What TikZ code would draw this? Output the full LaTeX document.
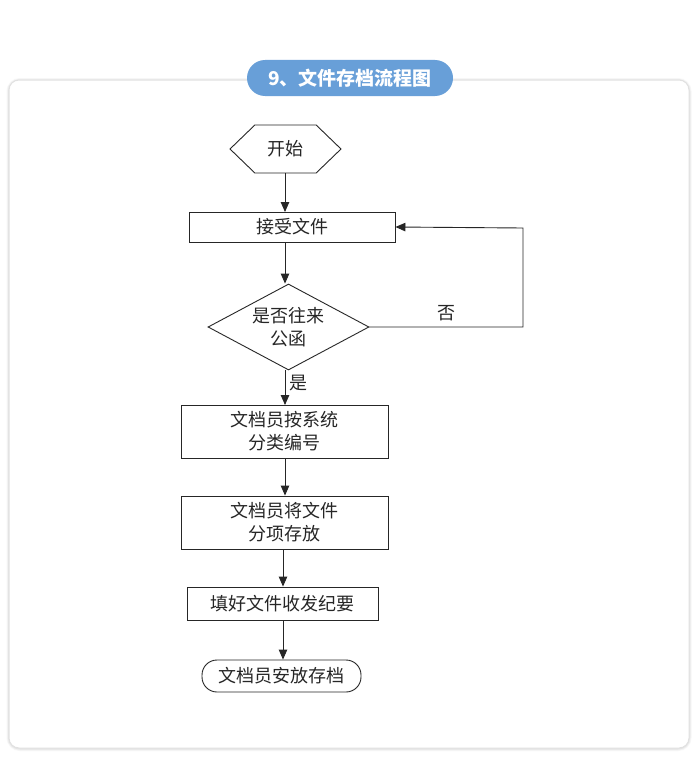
\documentclass[tikz,border=0pt]{standalone}
\usepackage{fontspec}
\setmainfont{Noto Sans CJK SC}
\usepackage{tikz}
\usetikzlibrary{positioning,arrows.meta,shapes.geometric,shapes.symbols}
\definecolor{titleblue}{RGB}{104,159,216}
\definecolor{cardline}{RGB}{225,225,225}

\begin{document}
\begin{tikzpicture}[x=1pt,y=-1pt,
    line/.style={line width=0.9pt,draw=black!85},
    flow/.style={line,-{Triangle[length=10pt,width=8.5pt]}},
    txt/.style={font=\fontsize{18}{23}\selectfont,text=black!85,align=center},
    proc/.style={txt,line,rectangle,inner sep=0pt},
    dec/.style={txt,line,diamond,inner sep=-9pt,minimum width=161pt,minimum height=86pt},
    term/.style={txt,line,rectangle,rounded corners=15pt,inner sep=0pt}
]
\useasboundingbox (0,0) rectangle (697,760);
\fill[white] (0,0) rectangle (697,760);

% card
\foreach \w/\c in {5/3,3.5/6,2/10}
  \draw[black!\c,line width=\w pt,rounded corners=11pt] (9,80.5) rectangle (689,748.5);
\draw[cardline,fill=white,line width=1pt,rounded corners=10pt] (9,80) rectangle (689,748);

% title
\node[fill=titleblue,rounded corners=18pt,minimum width=206pt,minimum height=36pt,
      text=white,font=\fontsize{19}{22}\selectfont\bfseries] (title) at (350,78) {9、文件存档流程图};

% flow chart
\node[txt,line,signal,signal to=east and west,signal pointer angle=88,
      minimum width=111pt,minimum height=48pt,inner sep=0pt] (start) at (285.5,149) {开始};
\node[proc,minimum width=206pt,minimum height=30pt] (recv) at (292,227) {接受文件};
\node[dec] (check) at (288.5,327) {是否往来\\公函};
\node[proc,minimum width=207pt,minimum height=53pt] (sort) at (284.5,431.5) {文档员按系统\\分类编号};
\node[proc,minimum width=207pt,minimum height=53pt] (store) at (284.5,522.5) {文档员将文件\\分项存放};
\node[proc,minimum width=191pt,minimum height=33pt] (note) at (282.5,603.5) {填好文件收发纪要};
\node[term,minimum width=159pt,minimum height=32pt] (place) at (281.5,676) {文档员安放存档};

\coordinate (back) at (523,228);

\draw[flow] (start.south -| 285,0) -- (285,212);
\draw[flow] (285,242) -- (check.north -| 285,0);
\draw[flow] (check.east) -| (back) -- (recv.east);
\draw[flow] (check.south -| 285,0) -- (285,405);
\draw[flow] (sort.south -| 285,0) -- (store.north -| 285,0);
\draw[flow] (store.south -| 283,0) -- (note.north -| 283,0);
\draw[flow] (note.south -| 283,0) -- (place.north -| 283,0);

\node[txt] (no) at (446,313) {否};
\node[txt] (yes) at (298,383) {是};

\end{tikzpicture}
\end{document}
